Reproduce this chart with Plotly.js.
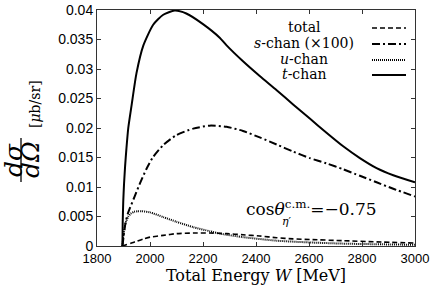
<!DOCTYPE html>
<html>
<head>
<meta charset="utf-8">
<script src="https://cdn.plot.ly/plotly-3.0.1.min.js"></script>
<style>html,body{margin:0;padding:0;background:#fff;}#chart{width:437px;height:287px;}</style>
</head>
<body>
<div id="chart"></div>
<script>
// ---- data ----
const seriesNames = ["total", "<i>s</i>-chan (×100)", "<i>u</i>-chan", "<i>t</i>-chan"];

const W_total = [1896, 1910, 1930, 1949, 1975, 2000, 2050, 2100, 2163, 2226, 2289, 2351, 2414, 2478, 2540, 2603, 2729, 2855, 3000];
const total   = [0, 0.0002, 0.0005, 0.0008, 0.0012, 0.0015, 0.0018, 0.0021, 0.0022, 0.0022, 0.0021, 0.0019, 0.0017, 0.0014, 0.0012, 0.0011, 0.0009, 0.0007, 0.0005];

const W_s   = [1896, 1900, 1906, 1912, 1918, 1924, 1943, 1962, 1987, 2012, 2050, 2100, 2163, 2226, 2289, 2351, 2414, 2478, 2540, 2603, 2666, 2729, 2792, 2855, 2918, 3000];
const s_chan = [0, 0.0015, 0.0035, 0.0048, 0.0057, 0.0064, 0.0085, 0.0106, 0.0131, 0.0151, 0.0171, 0.0188, 0.0199, 0.0204, 0.0202, 0.0195, 0.0184, 0.0172, 0.0160, 0.0149, 0.0140, 0.0130, 0.0119, 0.0108, 0.0097, 0.0084];

const W_u   = [1896, 1898, 1901, 1904, 1910, 1918, 1928, 1940, 1955, 1970, 2000, 2050, 2100, 2163, 2226, 2263, 2351, 2478, 2603, 2729, 2855, 3000];
const u_chan = [0, 0.0012, 0.0022, 0.0031, 0.0042, 0.0050, 0.0055, 0.0058, 0.0059, 0.0059, 0.0057, 0.0049, 0.0041, 0.0032, 0.0025, 0.0021, 0.0015, 0.0009, 0.0006, 0.0004, 0.0003, 0.0002];

const W_t   = [1896, 1897, 1899, 1902, 1906, 1911, 1918, 1931, 1949, 1975, 2012, 2050, 2093, 2137, 2200, 2263, 2289, 2351, 2414, 2478, 2540, 2603, 2666, 2729, 2792, 2855, 2918, 3000];
const t_chan = [0, 0.0040, 0.0075, 0.0105, 0.0135, 0.0165, 0.0200, 0.0240, 0.0293, 0.0340, 0.0375, 0.0392, 0.0399, 0.0394, 0.0376, 0.0353, 0.0340, 0.0313, 0.0288, 0.0264, 0.0240, 0.0216, 0.0192, 0.0169, 0.0149, 0.0132, 0.0120, 0.0108];

const xTicks = [1800, 2000, 2200, 2400, 2600, 2800, 3000];
const yTicks = [0, 0.005, 0.01, 0.015, 0.02, 0.025, 0.03, 0.035, 0.04];
const yTickText = ["0", "0.005", "0.01", "0.015", "0.02", "0.025", "0.03", "0.035", "0.04"];

// ---- styles ----
const styles = [
  {dash: "5px,3px", width: 1.6},
  {dash: "8px,3px,2px,3px", width: 2},
  {dash: "1px,1px", width: 2},
  {dash: "solid", width: 2}
];
const xs = [W_total, W_s, W_u, W_t];
const ys = [total, s_chan, u_chan, t_chan];

const traces = xs.map((x, i) => ({
  type: "scatter", mode: "lines", x: x, y: ys[i], name: seriesNames[i],
  line: {color: "#000", width: styles[i].width, dash: styles[i].dash, shape: "spline", smoothing: 0.6},
  showlegend: false, hoverinfo: "skip"
}));

const M = {l: 97, r: 22, t: 10, b: 41};
const PW = 437 - M.l - M.r, PH = 287 - M.t - M.b;
const px = v => (v - M.l) / PW;
const py = v => (287 - M.b - v) / PH;

const serif = "DejaVu Serif";
const annotations = [];
const shapes = [];

// custom legend (text left, sample right)
const legRows = [28, 44, 60, 75];
seriesNames.forEach((n, i) => {
  annotations.push({xref: "paper", yref: "paper", x: px(304), y: py(legRows[i] - 1), text: n,
    showarrow: false, xanchor: "center", yanchor: "middle", font: {family: serif, size: 14, color: "#000"}});
  shapes.push({type: "line", xref: "paper", yref: "paper", x0: px(372), x1: px(406), y0: py(legRows[i]), y1: py(legRows[i]),
    line: {color: "#000", width: styles[i].width, dash: styles[i].dash}});
});

// y-axis title as a fraction
annotations.push({xref: "paper", yref: "paper", x: px(13), y: py(160), text: "<i>dσ</i>", textangle: -90,
  showarrow: false, xanchor: "center", yanchor: "middle", font: {family: serif, size: 25, color: "#000"}});
annotations.push({xref: "paper", yref: "paper", x: px(30), y: py(160), text: "<i>dΩ</i>", textangle: -90,
  showarrow: false, xanchor: "center", yanchor: "middle", font: {family: serif, size: 25, color: "#000"}});
shapes.push({type: "line", xref: "paper", yref: "paper", x0: px(21), x1: px(21), y0: py(138), y1: py(182),
  line: {color: "#000", width: 1.3}});
annotations.push({xref: "paper", yref: "paper", x: px(35), y: py(104), text: "[<i>μ</i>b/sr]", textangle: -90,
  showarrow: false, xanchor: "center", yanchor: "middle", font: {family: serif, size: 14, color: "#000"}});

// angle annotation
annotations.push({xref: "paper", yref: "paper", x: px(244), y: py(208), text: "cos<i>θ</i><sup>c.m.</sup>=−0.75",
  showarrow: false, xanchor: "left", yanchor: "middle", font: {family: serif, size: 17, color: "#000"}});
annotations.push({xref: "paper", yref: "paper", x: px(280), y: py(221), text: "<i>η</i>′",
  showarrow: false, xanchor: "left", yanchor: "middle", font: {family: serif, size: 11, color: "#000"}});

const axisCommon = {
  showgrid: false, zeroline: false, showline: true, linecolor: "#333", linewidth: 1,
  mirror: "ticks", ticks: "inside", ticklen: 4, tickcolor: "#333", tickwidth: 1
};

const layout = {
  width: 437, height: 287, margin: M,
  paper_bgcolor: "#fff", plot_bgcolor: "#fff",
  xaxis: Object.assign({}, axisCommon, {
    range: [1800, 3000], tickvals: xTicks, ticktext: xTicks.map(String),
    tickfont: {family: "Liberation Sans", size: 13, color: "#000"},
    title: {text: "Total Energy <i>W</i> [MeV]", font: {family: serif, size: 16, color: "#000"}, standoff: 4}
  }),
  yaxis: Object.assign({}, axisCommon, {
    range: [0, 0.04], tickvals: yTicks, ticktext: yTickText,
    tickfont: {family: "Liberation Sans", size: 14, color: "#000"}
  }),
  annotations: annotations, shapes: shapes, showlegend: false
};

Plotly.newPlot("chart", traces, layout, {staticPlot: true, displayModeBar: false});
</script>
</body>
</html>
